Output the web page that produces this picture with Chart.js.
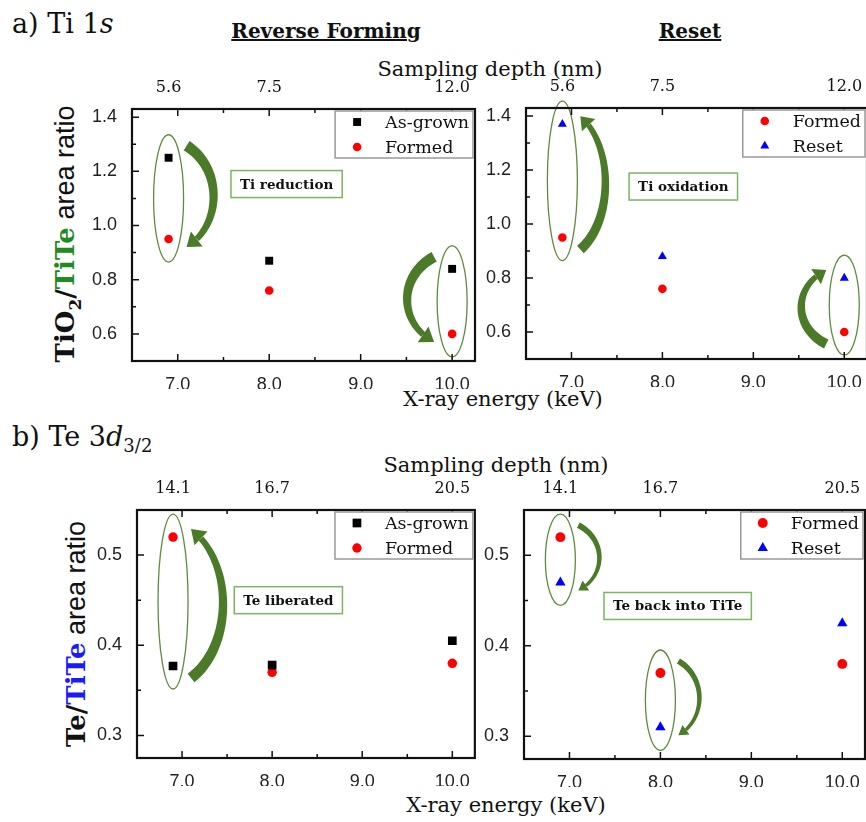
<!DOCTYPE html>
<html>
<head>
<title>Ti 1s / Te 3d3/2 area ratios</title>
<script src="https://cdn.jsdelivr.net/npm/chart.js"></script>
<style>
  body { margin: 0; width: 866px; height: 822px; overflow: hidden; background: #fff; position: relative; font-family: 'DejaVu Serif', serif; color: #111; }
  canvas { position: absolute; }
  .t { position: absolute; white-space: nowrap; line-height: 1; }
  .c { transform: translateX(-50%); }
  .h { font-weight: bold; font-size: 20px; text-decoration: underline; }
  .ax { font-size: 21px; }
  .yt { transform: translate(-50%, -50%) rotate(-90deg); font-size: 26px; }
  .yt b { font-family: 'DejaVu Serif', serif; }
  .yt span { font-family: 'Liberation Sans', Arial, sans-serif; font-size: 27px; }
</style>
</head>
<body>
  <div class="t" style="left:12px; top:10px; font-size:27px;">a) Ti 1<i>s</i></div>
  <div class="t c h" style="left:326px; top:21px;">Reverse Forming</div>
  <div class="t c h" style="left:690px; top:21px;">Reset</div>
  <div class="t c ax" style="left:490px; top:59px;">Sampling depth (nm)</div>
  <div class="t c ax" style="left:503px; top:389px;">X-ray energy (keV)</div>
  <div class="t yt" style="left:68px; top:234px;"><b>TiO<sub style="font-size:17px">2</sub>/</b><b style="color:#218a21">TiTe</b><span> area ratio</span></div>

  <div class="t" style="left:12px; top:423px; font-size:27px;">b) Te 3<i>d</i><sub style="font-size:18px">3/2</sub></div>
  <div class="t c ax" style="left:496px; top:455px;">Sampling depth (nm)</div>
  <div class="t c ax" style="left:506px; top:795px;">X-ray energy (keV)</div>
  <div class="t yt" style="left:76px; top:634px;"><b>Te/</b><b style="color:#1a1aff">TiTe</b><span> area ratio</span></div>

  <canvas id="aL"></canvas>
  <canvas id="aR"></canvas>
  <canvas id="bL"></canvas>
  <canvas id="bR"></canvas>

<script>
// X-ray energies (keV) and matching sampling depths (nm)
const energies = [6.9, 8.0, 10.0];
const tiDepth = ['5.6', '7.5', '12.0'];
const teDepth = ['14.1', '16.7', '20.5'];

// Ti 1s : TiO2/TiTe area ratio
const tiAsGrown = [1.25, 0.87, 0.84];
const tiFormed = [0.95, 0.76, 0.60];
const tiReset = [1.37, 0.88, 0.80];

// Te 3d3/2 : Te/TiTe area ratio
const teAsGrown = [0.377, 0.378, 0.405];
const teFormed = [0.52, 0.37, 0.38];
const teReset = [0.47, 0.31, 0.425];

// ticks
const energyTicks = [7, 8, 9, 10];
const energyMinor = [7.5, 8.5, 9.5];
const tiTicks = [0.6, 0.8, 1.0, 1.2, 1.4];
const tiMinor = [0.7, 0.9, 1.1, 1.3];
const teTicks = [0.3, 0.4, 0.5];
const teMinor = [0.35, 0.45];

const styles = {
  'As-grown': { pointStyle: 'rect', color: '#000', r: 5.6 },
  'Formed': { pointStyle: 'circle', color: '#ff0000', r: 4.3 },
  'Reset': { pointStyle: 'triangle', color: '#0000ff', r: 5.2 }
};

const GREEN = '#5e8c3e', ARROW = '#4b7a28', BOX = '#7bb560';
const SERIF = "'DejaVu Serif', serif", SANS = "'Liberation Sans', Arial, sans-serif";

// curved, tapering arrow (cubic curve bulging sideways)
function drawArrow(ctx, x0, y0, x1, y1, bulge, w, headW, headL) {
  const k = 4 / 3 * bulge, dy = y1 - y0;
  const c1x = x0 + k, c1y = y0 + 0.22 * dy, c2x = x1 + k, c2y = y1 - 0.22 * dy;
  const pt = t => {
    const u = 1 - t;
    return [u * u * u * x0 + 3 * u * u * t * c1x + 3 * u * t * t * c2x + t * t * t * x1,
            u * u * u * y0 + 3 * u * u * t * c1y + 3 * u * t * t * c2y + t * t * t * y1];
  };
  let len = 0, prev = pt(0);
  for (let i = 1; i <= 60; i++) { const p = pt(i / 60); len += Math.hypot(p[0] - prev[0], p[1] - prev[1]); prev = p; }
  // head base: walk back headL along the curve
  let tb = 1, acc = 0; prev = pt(1);
  while (tb > 0 && acc < headL) { tb -= 0.005; const p = pt(tb); acc += Math.hypot(p[0] - prev[0], p[1] - prev[1]); prev = p; }
  const L = [], R = [];
  const N = 40;
  for (let i = 0; i <= N; i++) {
    const t = tb * i / N;
    const [x, y] = pt(t);
    const a = pt(Math.max(0, t - 0.005)), b = pt(Math.min(1, t + 0.005));
    const dx = b[0] - a[0], dyy = b[1] - a[1];
    const d = Math.hypot(dx, dyy);
    const nx = -dyy / d, ny = dx / d;
    const hw = w * (1 - 0.45 * t / tb) / 2;
    L.push([x + nx * hw, y + ny * hw]);
    R.push([x - nx * hw, y - ny * hw]);
  }
  ctx.fillStyle = ARROW;
  ctx.beginPath();
  ctx.moveTo(L[0][0], L[0][1]);
  L.forEach(p => ctx.lineTo(p[0], p[1]));
  for (let i = R.length - 1; i >= 0; i--) ctx.lineTo(R[i][0], R[i][1]);
  ctx.closePath();
  ctx.fill();
  const [bx, by] = pt(tb);
  const ux = x1 - bx, uy = y1 - by, ud = Math.hypot(ux, uy);
  const nx = -uy / ud, ny = ux / ud;
  ctx.beginPath();
  ctx.moveTo(x1, y1);
  ctx.lineTo(bx + nx * headW / 2, by + ny * headW / 2);
  ctx.lineTo(bx - nx * headW / 2, by - ny * headW / 2);
  ctx.closePath();
  ctx.fill();
}

const decor = {
  id: 'decor',
  beforeDatasetsDraw(chart, args, o) {
    const { ctx, scales: { x, y } } = chart;
    const ds = chart.data.datasets;
    ctx.save();
    o.loops.forEach(i => {
      const px = x.getPixelForValue(energies[i]);
      const pA = y.getPixelForValue(ds[0].data[i].y);
      const pB = y.getPixelForValue(ds[1].data[i].y);
      const top = Math.min(pA, pB), bot = Math.max(pA, pB);
      ctx.strokeStyle = GREEN;
      ctx.lineWidth = 1.3;
      ctx.beginPath();
      ctx.ellipse(px, (top + bot) / 2, 15, (bot - top) / 2 + 23, 0, 0, Math.PI * 2);
      ctx.stroke();
      const side = energies[i] > 9.5 ? -1 : 1;
      const dir = Math.sign(pB - pA);
      const ax = px + side * 18;
      drawArrow(ctx, ax, pA - dir * 12, ax, pB + dir * 8, side * o.bulge, o.arrowW, o.headW, o.headL);
    });
    const n = o.note;
    ctx.font = 'bold 13.5px ' + SERIF;
    const tw = ctx.measureText(n.text).width;
    const cx = x.getPixelForValue(n.x), cy = y.getPixelForValue(n.y);
    const bw = tw + 18, bh = 27;
    ctx.fillStyle = '#fff';
    ctx.fillRect(cx - bw / 2, cy - bh / 2, bw, bh);
    ctx.strokeStyle = BOX;
    ctx.lineWidth = 1.5;
    ctx.strokeRect(cx - bw / 2, cy - bh / 2, bw, bh);
    ctx.fillStyle = '#111';
    ctx.textAlign = 'center';
    ctx.textBaseline = 'middle';
    ctx.fillText(n.text, cx, cy + 1);
    ctx.restore();
  },
  afterDraw(chart, args, o) {
    const { ctx, chartArea: a, scales: { x, y } } = chart;
    ctx.save();
    ctx.strokeStyle = '#111';
    ctx.lineWidth = 2.2;
    ctx.strokeRect(a.left, a.top, a.right - a.left, a.bottom - a.top);
    // inward ticks
    ctx.lineWidth = 1.5;
    ctx.beginPath();
    const xt = (v, l) => {
      const p = x.getPixelForValue(v);
      ctx.moveTo(p, a.bottom); ctx.lineTo(p, a.bottom - l);
      ctx.moveTo(p, a.top); ctx.lineTo(p, a.top + l);
    };
    const yt = (v, l) => {
      const p = y.getPixelForValue(v);
      ctx.moveTo(a.left, p); ctx.lineTo(a.left + l, p);
    };
    energyTicks.forEach(v => xt(v, 7));
    energyMinor.forEach(v => xt(v, 4));
    o.yTicks.forEach(v => yt(v, 7));
    o.yMinor.forEach(v => yt(v, 4));
    ctx.stroke();
    // legend in the top-right corner
    ctx.font = '17.5px ' + SERIF;
    const labels = chart.data.datasets.map(d => d.label);
    const tw = Math.max(...labels.map(l => ctx.measureText(l).width));
    const bw = 50 + tw + 4, bh = 47;
    const lx = a.right - 2 - bw, ly = a.top + 2;
    ctx.fillStyle = '#fff';
    ctx.fillRect(lx, ly, bw, bh);
    ctx.strokeStyle = '#999';
    ctx.lineWidth = 1.5;
    ctx.strokeRect(lx, ly, bw, bh);
    labels.forEach((l, i) => {
      const s = styles[l];
      const cy = ly + 11 + i * 25;
      ctx.fillStyle = s.color;
      Chart.helpers.drawPoint(ctx, { pointStyle: s.pointStyle, radius: s.r * o.pt, rotation: 0, borderWidth: 0 }, lx + 22, cy);
      ctx.fillStyle = '#111';
      ctx.textAlign = 'left';
      ctx.textBaseline = 'middle';
      ctx.fillText(l, lx + 50, cy + 1);
    });
    ctx.restore();
  }
};

function makePanel(id, area, series, yr, yTicks, yMinor, depth, note, arrow, loops, pt) {
  const W = area.right - area.left + 66, H = area.bottom - area.top + 58;
  const cv = document.getElementById(id);
  cv.style.left = (area.left - 60) + 'px';
  cv.style.top = (area.top - 30) + 'px';
  cv.style.width = W + 'px';
  cv.style.height = H + 'px';
  cv.width = W; cv.height = H;
  new Chart(cv, {
    type: 'scatter',
    data: {
      datasets: series.map(([label, vals]) => ({
        label,
        data: energies.map((e, i) => ({ x: e, y: vals[i] })),
        pointStyle: styles[label].pointStyle,
        pointRadius: styles[label].r * pt,
        pointHoverRadius: styles[label].r * pt,
        backgroundColor: styles[label].color,
        borderWidth: 0
      }))
    },
    options: {
      responsive: false,
      animation: false,
      events: [],
      layout: { padding: { left: 0, right: 6, top: 0, bottom: 0 } },
      plugins: {
        legend: { display: false },
        tooltip: { enabled: false },
        decor: { loops, note, yTicks, yMinor, pt, bulge: arrow[0], arrowW: arrow[1], headW: arrow[2], headL: arrow[3] }
      },
      scales: {
        x: {
          type: 'linear', position: 'bottom', min: 6.5, max: 10.25,
          afterBuildTicks: s => { s.ticks = energyTicks.map(v => ({ value: v })); },
          afterFit: s => { s.height = 28; s.paddingLeft = 0; s.paddingRight = 0; },
          grid: { display: false }, border: { display: false },
          ticks: { autoSkip: false, maxRotation: 0, padding: 5, color: '#222',
                   font: { family: SANS, size: 18 }, callback: v => v.toFixed(1) }
        },
        x2: {
          type: 'linear', position: 'top', min: 6.5, max: 10.25,
          afterBuildTicks: s => { s.ticks = energies.map(v => ({ value: v })); },
          afterFit: s => { s.height = 30; s.paddingLeft = 0; s.paddingRight = 0; },
          grid: { display: false }, border: { display: false },
          ticks: { autoSkip: false, maxRotation: 0, padding: 4, color: '#111',
                   font: { family: SERIF, size: 16 }, callback: (v, i) => depth[i] }
        },
        y: {
          type: 'linear', min: yr[0], max: yr[1],
          afterBuildTicks: s => { s.ticks = yTicks.map(v => ({ value: v })); },
          afterFit: s => { s.width = 60; s.paddingTop = 0; s.paddingBottom = 0; },
          grid: { display: false }, border: { display: false },
          ticks: { padding: 7, color: '#222', font: { family: SANS, size: 18 }, callback: v => v.toFixed(1) }
        }
      }
    },
    plugins: [decor]
  });
}

makePanel('aL', { left: 132, right: 475, top: 109, bottom: 361 },
  [['As-grown', tiAsGrown], ['Formed', tiFormed]], [0.5, 1.43], tiTicks, tiMinor, tiDepth,
  { text: 'Ti reduction', x: 8.19, y: 1.153 }, [27, 11, 19, 13], [0, 2], 1);
makePanel('aR', { left: 526, right: 867, top: 108, bottom: 359 },
  [['Formed', tiFormed], ['Reset', tiReset]], [0.5, 1.43], tiTicks, tiMinor, tiDepth,
  { text: 'Ti oxidation', x: 8.23, y: 1.139 }, [25, 10, 18, 12], [0, 2], 1);
makePanel('bL', { left: 137, right: 475, top: 510, bottom: 758 },
  [['As-grown', teAsGrown], ['Formed', teFormed]], [0.275, 0.55], teTicks, teMinor, teDepth,
  { text: 'Te liberated', x: 8.18, y: 0.45 }, [32, 11, 19, 13], [0], 1.1);
makePanel('bR', { left: 524, right: 865, top: 510, bottom: 759 },
  [['Formed', teFormed], ['Reset', teReset]], [0.275, 0.55], teTicks, teMinor, teDepth,
  { text: 'Te back into TiTe', x: 8.19, y: 0.444 }, [21, 6, 12, 9], [0, 1], 1.15);
</script>
</body>
</html>
